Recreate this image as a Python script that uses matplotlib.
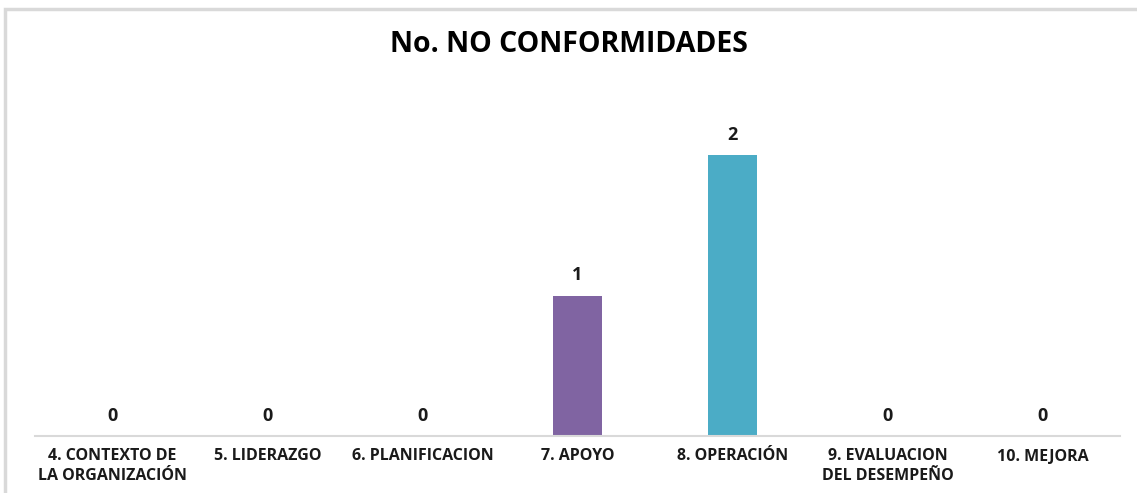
import matplotlib
matplotlib.use("Agg")
import matplotlib.pyplot as plt
from matplotlib.patches import Rectangle

categories = ["4. CONTEXTO DE\nLA ORGANIZACIÓN", "5. LIDERAZGO", "6. PLANIFICACION",
              "7. APOYO", "8. OPERACIÓN", "9. EVALUACION\nDEL DESEMPEÑO", "10. MEJORA"]
values = [0, 0, 0, 1, 2, 0, 0]
colors = ["#4F81BD", "#C0504D", "#9BBB59", "#8064A2", "#4BACC6", "#F79646", "#2C4D75"]
title = "No. NO CONFORMIDADES"

plt.rcParams['font.family'] = ['Open Sans', 'DejaVu Sans']

fig = plt.figure(figsize=(11.37, 4.93), dpi=100)
fig.patches.append(Rectangle((5/1137, -0.05), 1.2, (493-9)/493 + 0.05, transform=fig.transFigure,
                             fill=False, edgecolor="#d9d9d9", linewidth=2.5))
ax = fig.add_axes([35/1137, (493-436)/493, 1085/1137, 321/493])
x = list(range(len(categories)))
bars = ax.bar(x, values, width=0.32, color=colors)
for xi, v in zip(x, values):
    ax.annotate(str(v), (xi, v), xytext=(0, 8), textcoords="offset points",
                ha="center", va="bottom", fontsize=13, fontweight="bold", color="#1a1a1a")
ax.set_xlim(-0.5, len(categories) - 0.5)
ax.set_ylim(0, 2.285)
ax.set_xticks(x)
ax.set_xticklabels(categories, fontsize=11.5, fontweight="bold", color="#1a1a1a", linespacing=1.25)
ax.tick_params(axis="x", length=0, pad=9)
ax.set_yticks([])
for s in ["top", "right", "left"]:
    ax.spines[s].set_visible(False)
ax.spines["bottom"].set_color("#d9d9d9")
ax.spines["bottom"].set_linewidth(1.5)
fig.text(0.5, 1 - 45/493, title, ha="center", va="center", fontsize=20.5, fontweight="bold", color="#000000")
fig.savefig("out.png", dpi=100)
